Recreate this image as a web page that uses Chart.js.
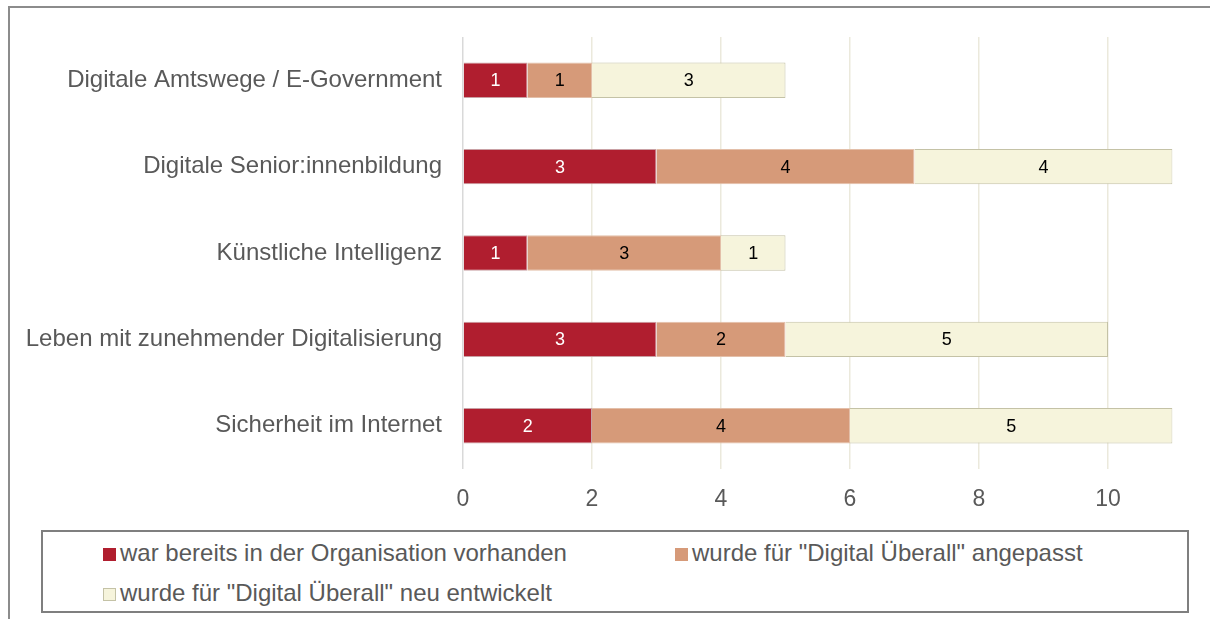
<!DOCTYPE html>
<html><head><meta charset="utf-8">
<script src="https://cdn.jsdelivr.net/npm/chart.js@4.4.1/dist/chart.umd.min.js"></script>
<style>
html,body{margin:0;padding:0;background:#fff;}
body{width:1210px;height:619px;position:relative;overflow:hidden;font-family:"Liberation Sans",Arial,sans-serif;}
#frame{position:absolute;left:8px;top:6px;width:1210px;height:620px;border-top:2px solid #8c8c8c;border-left:2px solid #8c8c8c;}
#wrap{position:absolute;left:0;top:0;width:1210px;height:520px;}
#legend{position:absolute;left:41px;top:530px;width:1144px;height:79px;border:2px solid #7f7f7f;}
.li{position:absolute;font-size:24px;color:#595959;white-space:nowrap;line-height:26px;}
.sw{display:inline-block;width:13px;height:13px;margin-right:4px;vertical-align:0px;box-sizing:border-box;}
</style></head>
<body>
<div id="frame"></div>
<div id="wrap"><canvas id="c" width="1210" height="520"></canvas></div>
<div id="legend"></div>
<script>
const categories = ["Digitale Amtswege / E-Government","Digitale Senior:innenbildung","Künstliche Intelligenz","Leben mit zunehmender Digitalisierung","Sicherheit im Internet"];
const seriesNames = ["war bereits in der Organisation vorhanden","wurde für \"Digital Überall\" angepasst","wurde für \"Digital Überall\" neu entwickelt"];
const vorhanden = [1,3,1,3,2];
const angepasst = [1,4,3,2,4];
const neu = [3,4,1,5,5];
const xTicks = [0,2,4,6,8,10];

const fills = ["#b01e2f","#d69a79","#f6f4dc"];
const borders = ["#c9a0a4","#e3bfa9","#c4c2a6"];
const labelColors = ["#ffffff","#000000","#000000"];
const values = [vorhanden, angepasst, neu];

const labelPlugin = {
  id:'barLabels',
  afterDatasetsDraw(chart){
    const ctx = chart.ctx;
    ctx.save();
    ctx.font = '18px "Liberation Sans", Arial, sans-serif';
    ctx.textAlign='center'; ctx.textBaseline='middle';
    chart.data.datasets.forEach((ds,i)=>{
      const meta = chart.getDatasetMeta(i);
      meta.data.forEach((bar,j)=>{
        const v = ds.data[j];
        if(!v) return;
        ctx.fillStyle = labelColors[i];
        ctx.fillText(String(v), (bar.x + bar.base)/2, bar.y+1);
      });
    });
    ctx.restore();
  }
};

new Chart(document.getElementById('c'),{
  type:'bar',
  data:{
    labels:categories,
    datasets: seriesNames.map((n,i)=>({
      label:n, data:values[i], backgroundColor:fills[i], borderColor:borders[i], borderWidth:1,
      barPercentage:0.41, categoryPercentage:1.0
    }))
  },
  options:{
    indexAxis:'y', responsive:false, animation:false,
    layout:{padding:{top:37,right:37.5,left:0,bottom:0}},
    plugins:{legend:{display:false},tooltip:{enabled:false}},
    scales:{
      x:{
        stacked:true, min:0, max:11,
        afterFit(s){ s.height = 51; },
        afterBuildTicks(s){ s.ticks = xTicks.map(v=>({value:v})); },
        ticks:{includeBounds:false, stepSize:2, padding:17, color:'#595959', font:{size:23,family:'"Liberation Sans", Arial, sans-serif'}},
        grid:{drawTicks:false, color:(c)=> c.tick && c.tick.value===0 ? '#d9d9d9' : '#ebe9dc', lineWidth:1.5},
        border:{display:false}
      },
      y:{
        stacked:true,
        afterFit(s){ s.width = 463; },
        ticks:{padding:21, color:'#595959', font:{size:24,family:'"Liberation Sans", Arial, sans-serif'}},
        grid:{display:false, drawTicks:false},
        border:{display:false}
      }
    }
  },
  plugins:[labelPlugin]
});

const leg = document.getElementById('legend');
const pos = [[60,8],[632,8],[60,48]];
seriesNames.forEach((n,i)=>{
  const d = document.createElement('div');
  d.className='li';
  d.style.left=pos[i][0]+'px'; d.style.top=pos[i][1]+'px';
  const sw = document.createElement('span');
  sw.className='sw'; sw.style.background=fills[i];
  if(i===2) sw.style.border='1px solid #c4c2a6';
  d.appendChild(sw);
  d.appendChild(document.createTextNode(n));
  leg.appendChild(d);
});
</script>
</body></html>
